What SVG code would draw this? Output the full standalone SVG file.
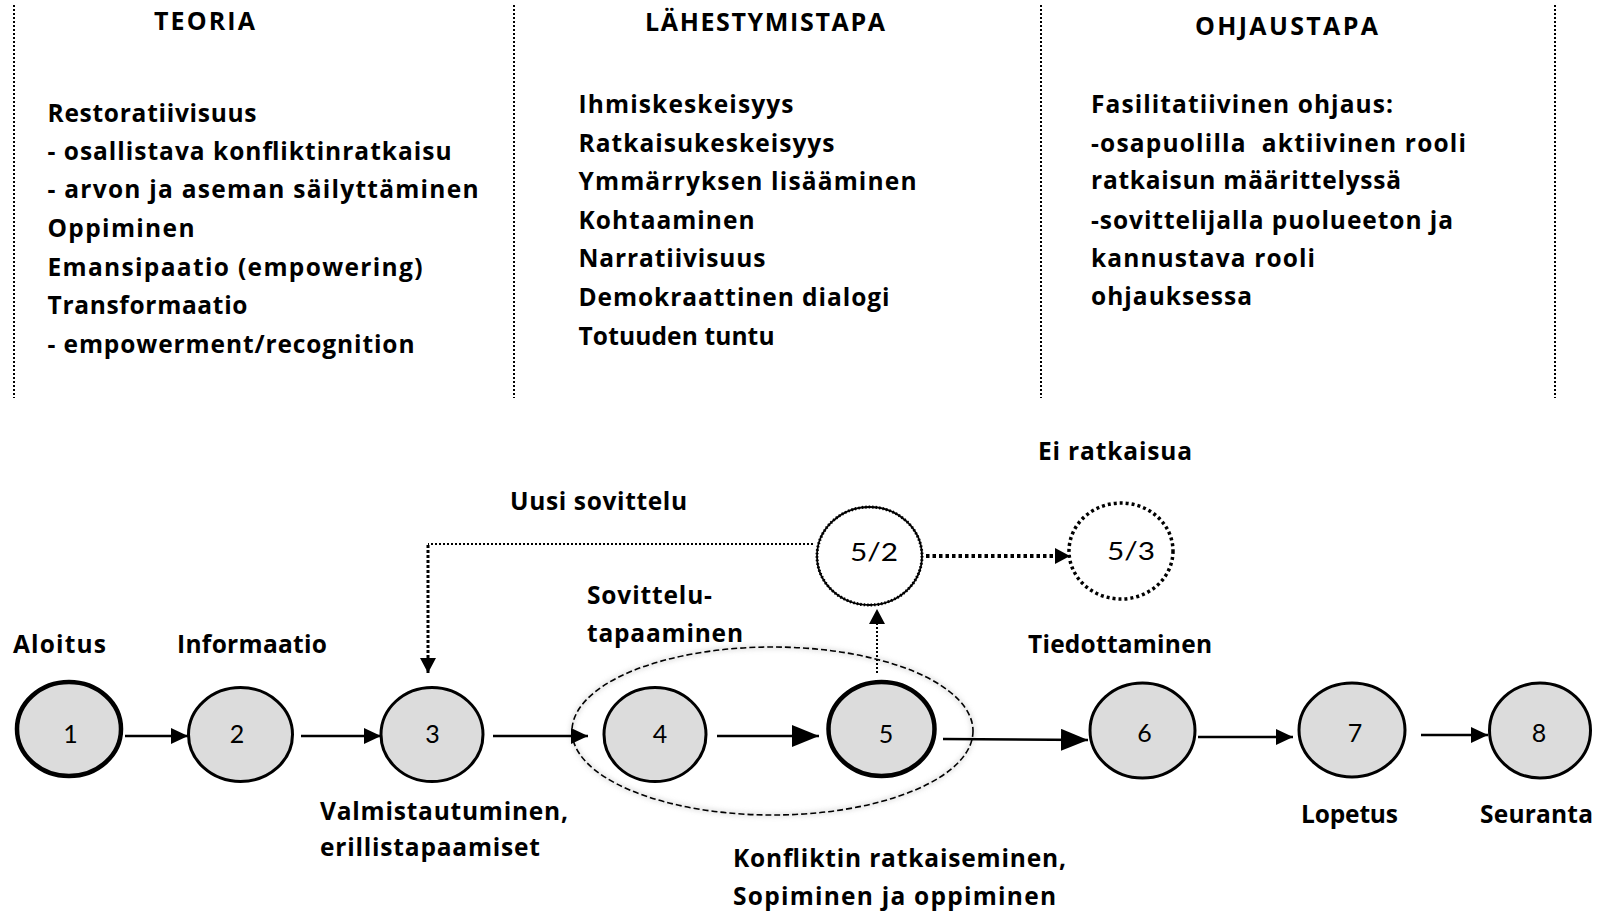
<svg xmlns="http://www.w3.org/2000/svg" width="1600" height="913" viewBox="0 0 1600 913">
  <style>
    .t { font-family: "Open Sans", "Liberation Sans", sans-serif; font-weight: 700; font-size: 24.5px; fill: #000; }
    .h { font-family: "Open Sans", "Liberation Sans", sans-serif; font-weight: 700; font-size: 25px; fill: #000; }
    .num { font-family: Lato, "Liberation Sans", sans-serif; font-weight: 400; font-size: 25px; fill: #000; text-anchor: middle; }
    .sep { stroke: #000; stroke-width: 2; stroke-dasharray: 2 2; fill: none; }
    .node { fill: #dcdcdc; stroke: #000; stroke-width: 3; }
    .node.thick { stroke-width: 4.5; }
    .arrow { stroke: #000; stroke-width: 2.6; fill: none; }
    .dot-thin { stroke: #000; stroke-width: 2; stroke-dasharray: 2 2; fill: none; }
    .dot-mid { stroke: #000; stroke-width: 3; stroke-dasharray: 3 2; fill: none; }
    .dot-thick { stroke: #000; stroke-width: 4; stroke-dasharray: 3.5 3; fill: none; }
  </style>
  <defs>
    <marker id="arrS" markerUnits="userSpaceOnUse" markerWidth="17" markerHeight="16" refX="17" refY="8" orient="auto">
      <path d="M0,0 L17,8 L0,16 Z" fill="#000"/>
    </marker>
    <marker id="arrL" markerUnits="userSpaceOnUse" markerWidth="27" markerHeight="22" refX="27" refY="11" orient="auto">
      <path d="M0,0 L27,11 L0,22 Z" fill="#000"/>
    </marker>
    <marker id="arrD" markerUnits="userSpaceOnUse" markerWidth="15" markerHeight="16" refX="15" refY="8" orient="auto">
      <path d="M0,0 L15,8 L0,16 Z" fill="#000"/>
    </marker>
    <filter id="soft" x="-10%" y="-20%" width="120%" height="140%">
      <feGaussianBlur stdDeviation="2.5"/>
    </filter>
  </defs>

  <!-- column separators -->
  <g id="separators">
    <line class="sep" x1="14" y1="5" x2="14" y2="398"/>
    <line class="sep" x1="514" y1="5" x2="514" y2="398"/>
    <line class="sep" x1="1041" y1="5" x2="1041" y2="398"/>
    <line class="sep" x1="1555" y1="5" x2="1555" y2="398"/>
  </g>

  <!-- column: theory -->
  <g id="col-teoria">
    <text class="h" x="154" y="30" textLength="101" lengthAdjust="spacing">TEORIA</text>
    <text class="t" x="47.5" y="122" textLength="209" lengthAdjust="spacing">Restoratiivisuus</text>
    <text class="t" x="47.5" y="160" textLength="404" lengthAdjust="spacing">- osallistava konfliktinratkaisu</text>
    <text class="t" x="47.5" y="198" textLength="431" lengthAdjust="spacing">- arvon ja aseman säilyttäminen</text>
    <text class="t" x="47.5" y="237" textLength="147" lengthAdjust="spacing">Oppiminen</text>
    <text class="t" x="47.5" y="276" textLength="375" lengthAdjust="spacing">Emansipaatio (empowering)</text>
    <text class="t" x="47.5" y="314" textLength="200" lengthAdjust="spacing">Transformaatio</text>
    <text class="t" x="47.5" y="353" textLength="367" lengthAdjust="spacing">- empowerment/recognition</text>
  </g>

  <!-- column: approach -->
  <g id="col-lahestymistapa">
    <text class="h" x="645" y="31" textLength="240" lengthAdjust="spacing">LÄHESTYMISTAPA</text>
    <text class="t" x="578.5" y="113" textLength="215" lengthAdjust="spacing">Ihmiskeskeisyys</text>
    <text class="t" x="578.5" y="152" textLength="256" lengthAdjust="spacing">Ratkaisukeskeisyys</text>
    <text class="t" x="578.5" y="190" textLength="338" lengthAdjust="spacing">Ymmärryksen lisääminen</text>
    <text class="t" x="578.5" y="229" textLength="176" lengthAdjust="spacing">Kohtaaminen</text>
    <text class="t" x="578.5" y="267" textLength="187" lengthAdjust="spacing">Narratiivisuus</text>
    <text class="t" x="578.5" y="306" textLength="311" lengthAdjust="spacing">Demokraattinen dialogi</text>
    <text class="t" x="578.5" y="345" textLength="196" lengthAdjust="spacing">Totuuden tuntu</text>
  </g>

  <!-- column: guidance -->
  <g id="col-ohjaustapa">
    <text class="h" x="1195" y="35" textLength="183" lengthAdjust="spacing">OHJAUSTAPA</text>
    <text class="t" x="1091" y="113" textLength="302" lengthAdjust="spacing">Fasilitatiivinen ohjaus:</text>
    <text class="t" x="1091" y="152" textLength="375" lengthAdjust="spacing" xml:space="preserve">-osapuolilla  aktiivinen rooli</text>
    <text class="t" x="1091" y="189" textLength="310" lengthAdjust="spacing">ratkaisun määrittelyssä</text>
    <text class="t" x="1091" y="229" textLength="362" lengthAdjust="spacing">-sovittelijalla puolueeton ja</text>
    <text class="t" x="1091" y="267" textLength="224" lengthAdjust="spacing">kannustava rooli</text>
    <text class="t" x="1091" y="305" textLength="161" lengthAdjust="spacing">ohjauksessa</text>
  </g>

  <!-- meeting group outline -->
  <g id="group-sovittelutapaaminen">
    <ellipse cx="772.5" cy="731" rx="200.5" ry="84" fill="none" stroke="#bbb" stroke-width="3" filter="url(#soft)" opacity="0.6"/>
    <ellipse cx="772.5" cy="731" rx="200.5" ry="84" fill="none" stroke="#000" stroke-width="1.6" stroke-dasharray="6 3"/>
  </g>

  <!-- connectors -->
  <g id="connectors">
    <line class="arrow" x1="125" y1="736" x2="188" y2="736" marker-end="url(#arrS)"/>
    <line class="arrow" x1="301" y1="736" x2="381" y2="736" marker-end="url(#arrS)"/>
    <line class="arrow" x1="493" y1="736" x2="588" y2="736" marker-end="url(#arrS)"/>
    <line class="arrow" x1="717" y1="736" x2="819" y2="736" marker-end="url(#arrL)"/>
    <line class="arrow" x1="943" y1="739" x2="1088" y2="740" marker-end="url(#arrL)"/>
    <line class="arrow" x1="1198" y1="737" x2="1293" y2="737" marker-end="url(#arrS)"/>
    <line class="arrow" x1="1421" y1="735" x2="1488" y2="735" marker-end="url(#arrS)"/>
    <!-- return path to preparation -->
    <line class="dot-thin" x1="813" y1="544" x2="428" y2="544"/>
    <line class="dot-mid" x1="428" y1="545" x2="428" y2="673" marker-end="url(#arrD)"/>
    <!-- branch up to 5/2 -->
    <line class="dot-thin" x1="877" y1="673" x2="877" y2="609" marker-end="url(#arrD)"/>
    <!-- 5/2 to 5/3 -->
    <line class="dot-thick" x1="926" y1="556" x2="1070" y2="556" marker-end="url(#arrD)"/>
  </g>

  <!-- process nodes -->
  <g id="node-1">
    <ellipse class="node thick" cx="69" cy="729" rx="52" ry="47"/>
    <text class="num" x="70.5" y="743">1</text>
  </g>
  <g id="node-2">
    <ellipse class="node" cx="240.5" cy="734.5" rx="52" ry="47"/>
    <text class="num" x="237" y="743">2</text>
  </g>
  <g id="node-3">
    <ellipse class="node" cx="432" cy="734.5" rx="51" ry="47"/>
    <text class="num" x="432.5" y="743">3</text>
  </g>
  <g id="node-4">
    <ellipse class="node" cx="655" cy="734.5" rx="51" ry="47"/>
    <text class="num" x="660" y="743">4</text>
  </g>
  <g id="node-5">
    <ellipse class="node thick" cx="881.5" cy="729" rx="53" ry="47"/>
    <text class="num" x="886" y="743">5</text>
  </g>
  <g id="node-6">
    <ellipse class="node" cx="1142.5" cy="730.5" rx="52.5" ry="47.5"/>
    <text class="num" x="1144.5" y="742">6</text>
  </g>
  <g id="node-7">
    <ellipse class="node" cx="1352" cy="730" rx="53" ry="47"/>
    <text class="num" x="1355" y="742">7</text>
  </g>
  <g id="node-8">
    <ellipse class="node" cx="1540" cy="730.5" rx="50.5" ry="47.5"/>
    <text class="num" x="1539" y="742">8</text>
  </g>
  <g id="node-5-2">
    <ellipse cx="869.5" cy="556" rx="52.5" ry="49" fill="#fff" stroke="#000" stroke-width="1.8"/>
    <ellipse cx="869.5" cy="556" rx="52.5" ry="49" fill="none" stroke="#000" stroke-width="3" stroke-dasharray="1.5 2"/>
    <text class="num" x="874" y="561" font-size="26" textLength="48" lengthAdjust="spacingAndGlyphs">5/2</text>
  </g>
  <g id="node-5-3">
    <ellipse cx="1121" cy="551" rx="52" ry="48" fill="#fff" stroke="#000" stroke-width="3.5" stroke-dasharray="3 3"/>
    <text class="num" x="1131" y="560" font-size="26" textLength="48" lengthAdjust="spacingAndGlyphs">5/3</text>
  </g>

  <!-- step labels -->
  <g id="labels">
    <text class="t" x="13" y="653" textLength="93" lengthAdjust="spacing">Aloitus</text>
    <text class="t" x="177" y="653" textLength="150" lengthAdjust="spacing">Informaatio</text>
    <text class="t" x="510" y="510" textLength="177" lengthAdjust="spacing">Uusi sovittelu</text>
    <text class="t" x="1038" y="460" textLength="154" lengthAdjust="spacing">Ei ratkaisua</text>
    <text class="t" x="587" y="604" textLength="125" lengthAdjust="spacing">Sovittelu-</text>
    <text class="t" x="587" y="642" textLength="156" lengthAdjust="spacing">tapaaminen</text>
    <text class="t" x="1028" y="653" textLength="184" lengthAdjust="spacing">Tiedottaminen</text>
    <text class="t" x="320" y="820" textLength="248" lengthAdjust="spacing">Valmistautuminen,</text>
    <text class="t" x="320" y="856" textLength="220" lengthAdjust="spacing">erillistapaamiset</text>
    <text class="t" x="733" y="867" textLength="333" lengthAdjust="spacing">Konfliktin ratkaiseminen,</text>
    <text class="t" x="733" y="905" textLength="323" lengthAdjust="spacing">Sopiminen ja oppiminen</text>
    <text class="t" x="1301" y="823" textLength="97" lengthAdjust="spacing">Lopetus</text>
    <text class="t" x="1480" y="823" textLength="113" lengthAdjust="spacing">Seuranta</text>
  </g>
</svg>
